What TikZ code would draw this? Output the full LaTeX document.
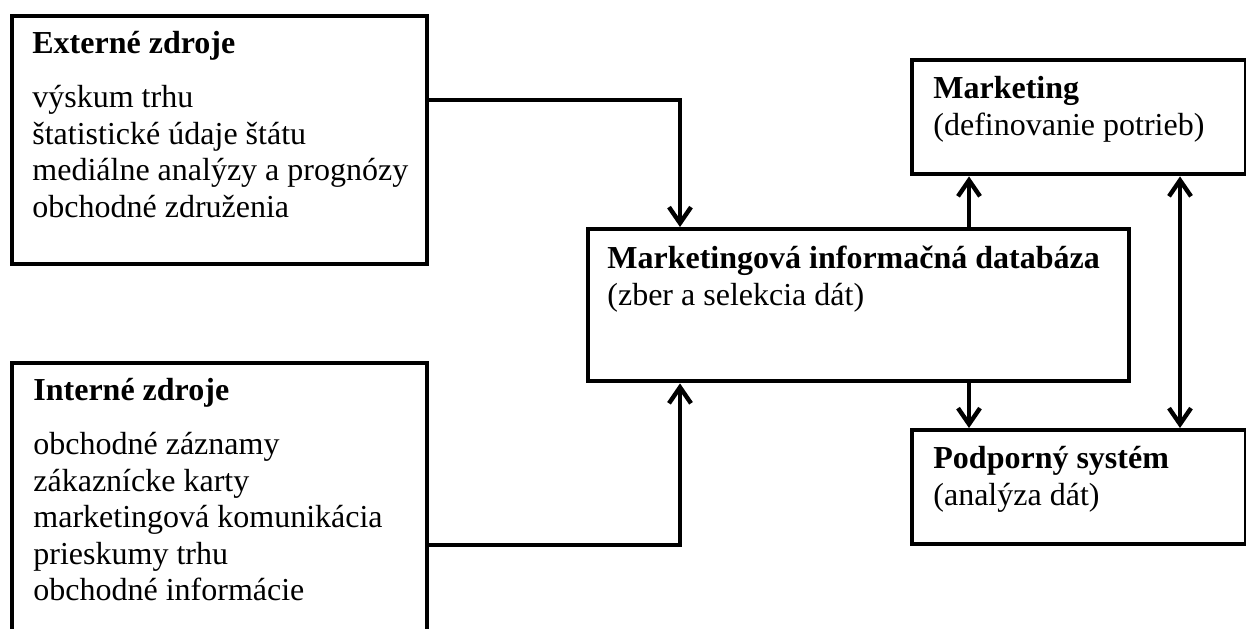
\documentclass[tikz,border=0pt]{standalone}
\usepackage{fontspec}
\setmainfont{Liberation Serif}
\usetikzlibrary{arrows.meta,positioning,calc}

\begin{document}
\begin{tikzpicture}[x=0.5pt,y=-0.5pt,
  box/.style={draw,line width=2.2pt,inner sep=0pt,anchor=north west},
  txt/.style={inner sep=0pt,align=left,font=\fontsize{16}{18.25}\selectfont},
  conn/.style={line width=2.2pt,-{Straight Barb[length=8pt,width=11pt]}},
  conn2/.style={line width=2.2pt,{Straight Barb[length=8pt,width=11pt]}-{Straight Barb[length=8pt,width=11pt]}}]
  \clip (0,0) rectangle (1246,628); % okraje obrazka
  \fill[white] (0,0) rectangle (1246,628);
  % zdroje
  \node[box,minimum width=207.5pt,minimum height=124pt] (ext) at (10,14) {};
  \node[box,minimum width=207.5pt,minimum height=170pt] (int) at (10,361) {}; % dolny okraj je mimo obrazka
  \node[txt,below right=8.5pt and 11pt of ext.north west] (exttxt) {\textbf{Externé zdroje}\\[8.75pt]
    výskum trhu\\ štatistické údaje štátu\\ mediálne analýzy a prognózy\\ obchodné združenia};
  \node[txt,below right=8.5pt and 11.5pt of int.north west] (inttxt) {\textbf{Interné zdroje}\\[8.75pt]
    obchodné záznamy\\ zákaznícke karty\\ marketingová komunikácia\\ prieskumy trhu\\ obchodné informácie};
  % databaza
  \node[box,minimum width=270.5pt,minimum height=76pt] (db) at (586,227) {};
  \node[txt,below right=9.5pt and 10.5pt of db.north west] (dbtxt) {\textbf{Marketingová informačná databáza}\\
    (zber a selekcia dát)};
  % marketing a podporny system
  \node[box,minimum width=167pt,minimum height=57pt] (mkt) at (910,58) {};
  \node[txt,below right=9pt and 11.5pt of mkt.north west] (mkttxt) {\textbf{Marketing}\\ (definovanie potrieb)};
  \node[box,minimum width=167pt,minimum height=57pt] (sup) at (910,428) {};
  \node[txt,below right=9pt and 11.5pt of sup.north west] (suptxt) {\textbf{Podporný systém}\\ (analýza dát)};
  % sipky
  \draw[conn] ([yshift=-43pt]ext.north east) -| ([xshift=47pt]db.north west);
  \draw[conn] ([yshift=-92pt]int.north east) -| ([xshift=47pt]db.south west);
  \draw[conn] ([xshift=191.5pt]db.north west) coordinate (dbup) -- (dbup |- mkt.south);
  \draw[conn] ([xshift=191.5pt]db.south west) coordinate (dbdown) -- (dbdown |- sup.north);
  \draw[conn2] ([xshift=135pt]mkt.south west) -- ([xshift=135pt]sup.north west);
\end{tikzpicture}
\end{document}
